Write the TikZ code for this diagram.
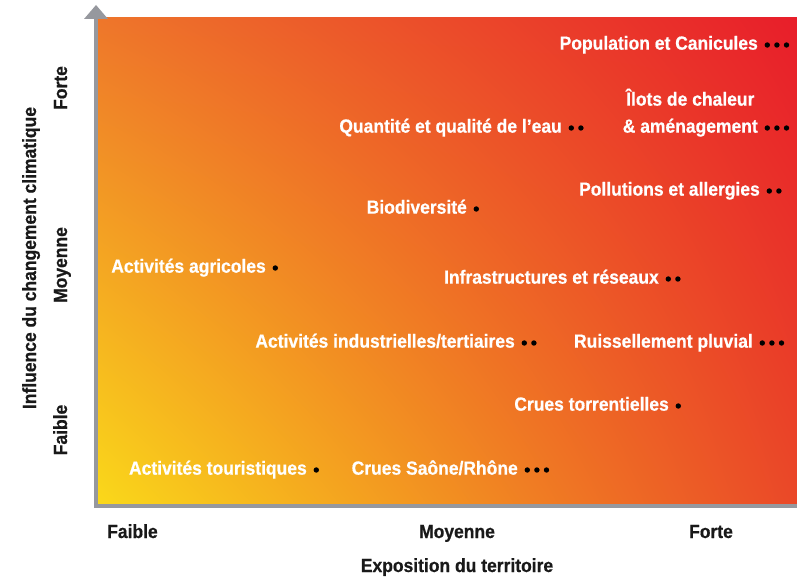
\documentclass[tikz,border=0pt]{standalone}
\usepackage{fontspec}
\usetikzlibrary{shadings}
\setmainfont{Liberation Sans}[FakeStretch=0.92,BoldFeatures={FakeStretch=0.92,FakeBold=0.6}]
\definecolor{axisgray}{RGB}{150,152,158}
\definecolor{cUL}{RGB}{238,118,42}
\definecolor{cUR}{RGB}{232,30,42}
\definecolor{cLL}{RGB}{250,216,26}
\definecolor{cLR}{RGB}{234,72,40}
\definecolor{txtdark}{RGB}{25,25,25}
\newcommand\ptdots[2]{\foreach \k in {1,...,#2}{\fill[dotc] ([xshift={9.6pt*\k-0.3pt},yshift=2pt]#1.mid east) circle (2.7pt);}}
\begin{document}
\begin{tikzpicture}[x=1pt,y=-1pt,
  lbl/.style={anchor=mid east,inner sep=0pt,text=white,font=\bfseries\fontsize{19}{22}\selectfont},
  axl/.style={inner sep=0pt,text=txtdark,font=\bfseries\fontsize{19}{22}\selectfont},
  dotc/.style={fill=black}]
\useasboundingbox (0,0) rectangle (797,578);
% axes (gray frame + arrow)
\fill[axisgray] (94,18) rectangle (797,508);
\shade[upper left=cUL, upper right=cUR, lower left=cLL, lower right=cLR] (98,18) rectangle (797,503);
\fill[axisgray] (84,19) -- (96,5) -- (108,19) -- cycle;
% labels
\node[lbl] (pop) at (758,47) {Population et Canicules};
\ptdots{pop}{3}
\node[lbl] (ilots) at (758,130) {\& aménagement};
\node[anchor=base,inner sep=0pt,text=white,font=\bfseries\fontsize{19}{22}\selectfont] (ilotsA) at ([yshift=27pt]ilots.base) {Îlots de chaleur};
\ptdots{ilots}{3}
\node[lbl] (eau) at (562,130) {Quantité et qualité de l’eau};
\ptdots{eau}{2}
\node[lbl] (poll) at (760,193) {Pollutions et allergies};
\ptdots{poll}{2}
\node[lbl] (bio) at (467,211) {Biodiversité};
\ptdots{bio}{1}
\node[lbl] (agri) at (266,270) {Activités agricoles};
\ptdots{agri}{1}
\node[lbl] (infra) at (659,281) {Infrastructures et réseaux};
\ptdots{infra}{2}
\node[lbl] (indus) at (515,345) {Activités industrielles/tertiaires};
\ptdots{indus}{2}
\node[lbl] (ruis) at (753,345) {Ruissellement pluvial};
\ptdots{ruis}{3}
\node[lbl] (torr) at (669,408) {Crues torrentielles};
\ptdots{torr}{1}
\node[lbl] (tour) at (307,472) {Activités touristiques};
\ptdots{tour}{1}
\node[lbl] (saone) at (518,472) {Crues Saône/Rhône};
\ptdots{saone}{3}
% axis labels
\node[axl,anchor=base west] (xf) at (107,538) {Faible};
\node[axl,anchor=base] (xm) at (457,538) {Moyenne};
\node[axl,anchor=base] (xs) at (711,538) {Forte};
\node[axl,anchor=base] (xt) at (457,572) {Exposition du territoire};
\node[axl,anchor=base,rotate=90] (yf) at (67,430) {Faible};
\node[axl,anchor=base,rotate=90] (ym) at (67,265) {Moyenne};
\node[axl,anchor=base,rotate=90] (ys) at (67,88) {Forte};
\node[axl,anchor=base,rotate=90] (yt) at (36,258) {Influence du changement climatique};
\end{tikzpicture}
\end{document}
